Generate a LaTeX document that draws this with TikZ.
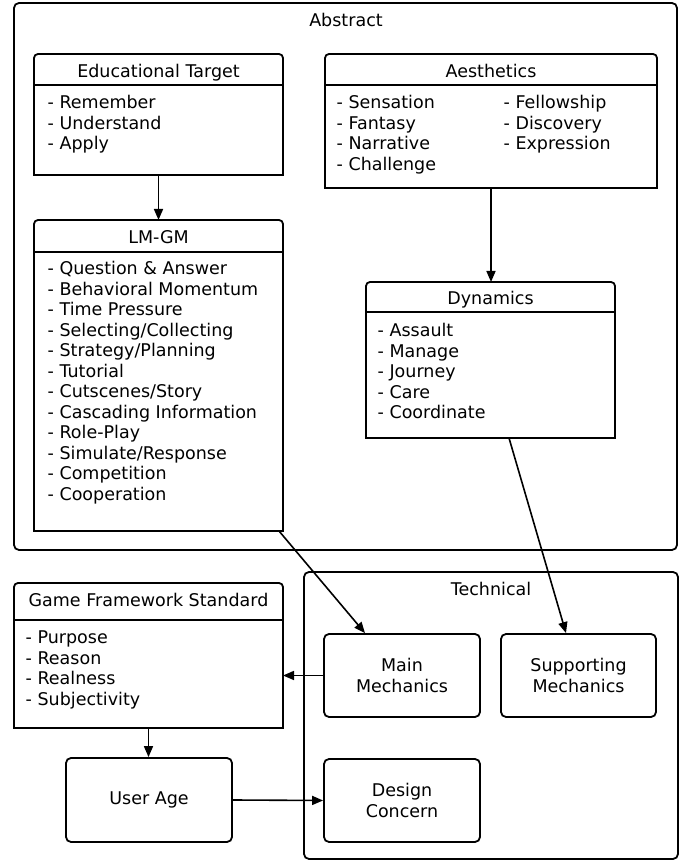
\documentclass[tikz,border=0pt]{standalone}
\usepackage{fontspec}
\setmainfont{DejaVu Sans}
\usetikzlibrary{arrows.meta}
\newcommand\topbox[2]{%
  \draw[boxline] (#1.south west) -- ([yshift=-4pt]#1.north west)
     arc[start angle=180,end angle=90,radius=4pt]
     -- ([xshift=-4pt]#1.north east)
     arc[start angle=90,end angle=0,radius=4pt]
     -- (#1.south east) -- cycle;
  \draw[boxline] ([yshift=-#2pt]#1.north west) -- ([yshift=-#2pt]#1.north east);}
\begin{document}
\begin{tikzpicture}[x=1pt,y=1pt,
  boxline/.style={line width=1.8pt},
  arr/.style={line width=1.6pt,-{Triangle[length=11pt,width=9pt]}},
  frame/.style={draw,line width=1.8pt,rounded corners=5pt,inner sep=0pt,align=center,font=\fontsize{17.5}{20.5}\selectfont},
  holder/.style={inner sep=0pt,outer sep=0pt},
  txt/.style={font=\fontsize{17.5}{20.5}\selectfont,inner sep=0pt},
  list/.style={txt,align=left,anchor=base west},
]
\useasboundingbox (0,0) rectangle (686,861);
\fill[white] (0,0) rectangle (686,861);

% containers
\node[frame,minimum width=663pt,minimum height=547pt] (abs) at (345.5,584.5) {};
\node[txt,anchor=base] (abslbl) at (346,834) {Abstract};
\node[frame,minimum width=374pt,minimum height=287pt] (tech) at (491,145.5) {};
\node[txt,anchor=base] (techlbl) at (491,265) {Technical};

% Educational Target (list anchored at the baseline of its last line)
\node[holder,minimum width=249pt,minimum height=121pt] (edu) at (158.5,746.5) {};
\topbox{edu}{31}
\node[txt,anchor=base] (eduh) at ([yshift=-24pt]edu.north) {Educational Target};
\node[list] (edul) at (47.5,711) {- Remember\\- Understand\\- Apply};

% LM-GM
\node[holder,minimum width=249pt,minimum height=311pt] (lmgm) at (158.5,485.5) {};
\topbox{lmgm}{32}
\node[txt,anchor=base] (lmgmh) at ([yshift=-23.5pt]lmgm.north) {LM-GM};
\node[list] (lmgml) at (47.5,360.5) {- Question \& Answer\\- Behavioral Momentum\\- Time Pressure\\- Selecting/Collecting\\- Strategy/Planning\\- Tutorial\\- Cutscenes/Story\\- Cascading Information\\- Role-Play\\- Simulate/Response\\- Competition\\- Cooperation};

% Aesthetics
\node[holder,minimum width=332pt,minimum height=134pt] (aes) at (491,740) {};
\topbox{aes}{31}
\node[txt,anchor=base] (aesh) at ([yshift=-24pt]aes.north) {Aesthetics};
\node[list] (aesl1) at (336.5,690.5) {- Sensation\\- Fantasy\\- Narrative\\- Challenge};
\node[list] (aesl2) at (503.5,711) {- Fellowship\\- Discovery\\- Expression};

% Dynamics
\node[holder,minimum width=249pt,minimum height=156pt] (dyn) at (490.5,501) {};
\topbox{dyn}{30}
\node[txt,anchor=base] (dynh) at ([yshift=-23pt]dyn.north) {Dynamics};
\node[list] (dynl) at (377.5,442) {- Assault\\- Manage\\- Journey\\- Care\\- Coordinate};

% Game Framework Standard
\node[holder,minimum width=269pt,minimum height=145pt] (gfs) at (148.5,205.5) {};
\topbox{gfs}{37}
\node[txt,anchor=base] (gfsh) at ([yshift=-24pt]gfs.north) {Game Framework Standard};
\node[list] (gfsl) at (25.5,155.5) {- Purpose\\- Reason\\- Realness\\- Subjectivity};

% simple boxes
\node[frame,minimum width=166pt,minimum height=84pt] (ua) at (149,61) {User Age};
\node[frame,minimum width=156pt,minimum height=83pt] (main) at (402,185.5) {Main\\Mechanics};
\node[frame,minimum width=155pt,minimum height=83pt] (supp) at (578.5,185.5) {Supporting\\Mechanics};
\node[frame,minimum width=156pt,minimum height=83pt] (dc) at (402,60.5) {Design\\Concern};

% connectors
\draw[arr] (edu.south) -- (edu.south |- lmgm.north);
\draw[arr] (aes.south) -- (aes.south |- dyn.north);
\draw[arr] ([xshift=-4pt]lmgm.south east) -- ([xshift=-37pt]main.north);
\draw[arr] ([xshift=18.5pt]dyn.south) -- ([xshift=-12.5pt]supp.north);
\draw[arr] (main.west) -- (main.west -| gfs.east);
\draw[arr] (gfs.south) -- (gfs.south |- ua.north);
\draw[arr] (ua.east) -- (dc.west);
\end{tikzpicture}
\end{document}
